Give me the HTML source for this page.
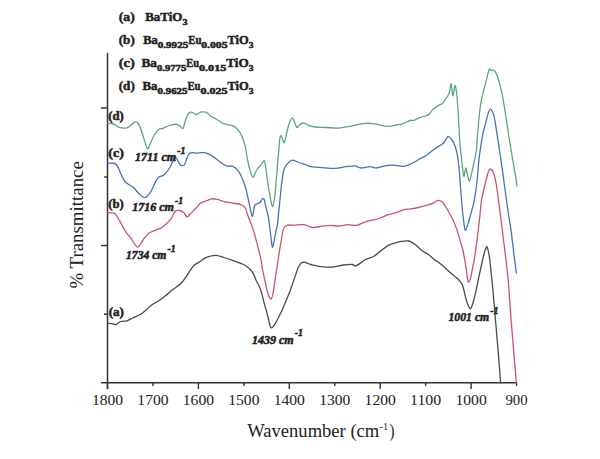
<!DOCTYPE html>
<html><head><meta charset="utf-8"><style>
html,body{margin:0;padding:0;background:#fff;}
body{width:600px;height:459px;overflow:hidden;}
svg{display:block;font-family:"Liberation Serif",serif;}
</style></head><body>
<svg width="600" height="459" viewBox="0 0 600 459">
<rect width="600" height="459" fill="#fff"/>
<line x1="107.5" y1="53" x2="107.5" y2="389" stroke="#333" stroke-width="1.5"/>
<line x1="101" y1="382.8" x2="517.2" y2="382.8" stroke="#333" stroke-width="1.5"/>
<line x1="101.0" y1="108.0" x2="107.5" y2="108.0" stroke="#333" stroke-width="1.5"/>
<line x1="104.2" y1="177.0" x2="107.5" y2="177.0" stroke="#333" stroke-width="1.5"/>
<line x1="101.0" y1="245.5" x2="107.5" y2="245.5" stroke="#333" stroke-width="1.5"/>
<line x1="104.0" y1="314.2" x2="107.5" y2="314.2" stroke="#333" stroke-width="1.5"/>
<line x1="107.50" y1="382.8" x2="107.50" y2="389.0" stroke="#333" stroke-width="1.4"/>
<line x1="152.95" y1="382.8" x2="152.95" y2="386.0" stroke="#333" stroke-width="1.4"/>
<line x1="198.40" y1="382.8" x2="198.40" y2="389.0" stroke="#333" stroke-width="1.4"/>
<line x1="243.85" y1="382.8" x2="243.85" y2="386.0" stroke="#333" stroke-width="1.4"/>
<line x1="289.30" y1="382.8" x2="289.30" y2="389.0" stroke="#333" stroke-width="1.4"/>
<line x1="334.75" y1="382.8" x2="334.75" y2="386.0" stroke="#333" stroke-width="1.4"/>
<line x1="380.20" y1="382.8" x2="380.20" y2="389.0" stroke="#333" stroke-width="1.4"/>
<line x1="425.65" y1="382.8" x2="425.65" y2="386.0" stroke="#333" stroke-width="1.4"/>
<line x1="471.10" y1="382.8" x2="471.10" y2="389.0" stroke="#333" stroke-width="1.4"/>
<line x1="516.55" y1="382.8" x2="516.55" y2="386.0" stroke="#333" stroke-width="1.4"/>
<path d="M107.60 323.40 C108.23 323.43 110.76 323.44 112.00 323.60 C113.24 323.76 115.06 324.80 116.30 324.50 C117.54 324.20 119.14 322.03 120.70 321.50 C122.26 320.97 125.49 321.30 127.20 320.80 C128.91 320.30 130.83 318.90 132.70 318.00 C134.57 317.10 138.29 315.74 140.30 314.50 C142.31 313.26 145.09 310.73 146.80 309.30 C148.51 307.87 150.59 305.71 152.30 304.50 C154.01 303.29 156.93 302.04 158.80 300.80 C160.67 299.56 163.53 297.30 165.40 295.80 C167.27 294.30 170.04 291.77 171.90 290.30 C173.76 288.83 177.00 286.59 178.40 285.50 C179.80 284.41 180.76 283.73 181.70 282.70 C182.64 281.67 183.91 279.86 185.00 278.30 C186.09 276.74 188.06 273.60 189.30 271.80 C190.54 270.00 192.17 267.17 193.70 265.70 C195.23 264.23 198.17 262.69 200.00 261.50 C201.83 260.31 204.24 258.27 206.50 257.40 C208.76 256.53 213.30 255.39 215.80 255.40 C218.30 255.41 221.59 256.79 224.00 257.50 C226.41 258.21 230.21 259.51 232.70 260.40 C235.19 261.29 239.53 262.94 241.40 263.70 C243.27 264.46 244.24 264.54 245.80 265.70 C247.36 266.86 250.84 269.76 252.30 271.80 C253.76 273.84 254.96 277.80 256.00 280.00 C257.04 282.20 258.74 285.14 259.60 287.20 C260.46 289.26 261.31 292.00 262.00 294.40 C262.69 296.80 263.71 301.44 264.40 304.00 C265.09 306.56 266.11 309.74 266.80 312.30 C267.49 314.86 268.60 319.67 269.20 321.90 C269.80 324.13 270.31 327.39 271.00 327.90 C271.69 328.41 273.07 326.70 274.00 325.50 C274.93 324.30 276.49 321.39 277.50 319.50 C278.51 317.61 280.07 314.51 281.10 312.30 C282.13 310.09 283.96 305.76 284.70 304.00 C285.44 302.24 285.60 301.67 286.30 300.00 C287.00 298.33 288.67 294.71 289.60 292.30 C290.53 289.89 291.96 285.53 292.80 283.10 C293.64 280.67 294.74 277.53 295.50 275.30 C296.26 273.07 297.27 269.27 298.10 267.50 C298.93 265.73 300.37 263.66 301.30 262.90 C302.23 262.14 303.64 262.11 304.60 262.20 C305.56 262.29 307.10 263.17 308.00 263.50 C308.90 263.83 308.93 264.04 310.90 264.50 C312.87 264.96 318.69 266.33 321.80 266.70 C324.91 267.07 329.59 267.34 332.70 267.10 C335.81 266.86 340.80 265.37 343.60 265.00 C346.40 264.63 350.59 264.36 352.30 264.50 C354.01 264.64 354.36 266.24 355.60 266.00 C356.84 265.76 359.60 263.73 361.00 262.80 C362.40 261.87 363.54 260.43 365.40 259.50 C367.26 258.57 371.51 257.76 374.00 256.30 C376.49 254.84 380.61 250.93 382.80 249.30 C384.99 247.67 387.43 245.84 389.30 244.90 C391.17 243.96 394.37 243.17 395.90 242.70 C397.43 242.23 398.17 241.84 400.00 241.60 C401.83 241.36 406.51 240.56 408.70 241.00 C410.89 241.44 413.43 243.34 415.30 244.70 C417.17 246.06 419.94 249.10 421.80 250.50 C423.66 251.90 426.43 253.16 428.30 254.50 C430.17 255.84 432.87 258.34 434.90 259.90 C436.93 261.46 440.33 263.59 442.50 265.40 C444.67 267.21 447.93 270.70 450.10 272.60 C452.27 274.50 455.99 277.04 457.70 278.70 C459.41 280.36 461.16 282.33 462.10 284.20 C463.04 286.07 463.69 289.47 464.30 291.80 C464.91 294.13 465.56 298.07 466.40 300.50 C467.24 302.93 469.26 308.49 470.20 308.80 C471.14 309.11 472.13 305.44 473.00 302.70 C473.87 299.96 475.37 293.70 476.30 289.60 C477.23 285.50 478.41 279.01 479.50 274.00 C480.59 268.99 482.97 258.21 483.90 254.50 C484.83 250.79 485.53 249.04 486.00 248.00 C486.47 246.96 486.74 246.11 487.20 247.20 C487.66 248.29 488.73 252.90 489.20 255.60 C489.67 258.30 490.13 262.74 490.50 266.10 C490.87 269.46 491.43 275.37 491.80 279.10 C492.17 282.83 492.69 287.69 493.10 292.20 C493.51 296.71 494.19 304.70 494.70 310.70 C495.21 316.70 496.13 327.49 496.70 334.20 C497.27 340.91 498.14 350.73 498.70 357.70 C499.26 364.67 500.33 379.39 500.60 383.00" fill="none" stroke="#4a4a4a" stroke-width="1.30" stroke-linejoin="round" stroke-linecap="round"/>
<path d="M107.00 212.70 C108.03 212.76 112.71 212.49 114.20 213.10 C115.69 213.71 116.31 215.34 117.40 217.00 C118.49 218.66 120.56 222.51 121.80 224.70 C123.04 226.89 124.86 230.44 126.10 232.30 C127.34 234.16 129.24 235.99 130.50 237.70 C131.76 239.41 133.90 242.96 134.90 244.30 C135.90 245.64 136.73 247.10 137.50 247.10 C138.27 247.10 139.27 245.64 140.30 244.30 C141.33 242.96 143.46 239.31 144.70 237.70 C145.94 236.09 147.60 234.03 149.00 233.00 C150.40 231.97 152.93 231.16 154.50 230.50 C156.07 229.84 158.44 229.23 160.00 228.40 C161.56 227.57 163.86 226.01 165.40 224.70 C166.94 223.39 169.40 221.13 170.80 219.20 C172.20 217.27 173.96 212.44 175.20 211.20 C176.44 209.96 178.26 210.29 179.50 210.50 C180.74 210.71 182.81 211.77 183.90 212.70 C184.99 213.63 186.17 216.84 187.10 217.00 C188.03 217.16 189.14 215.04 190.40 213.80 C191.66 212.56 194.53 209.77 195.90 208.30 C197.27 206.83 198.64 204.51 200.00 203.50 C201.36 202.49 203.69 201.87 205.40 201.20 C207.11 200.53 210.29 199.06 212.00 198.80 C213.71 198.54 215.69 199.00 217.40 199.40 C219.11 199.80 221.81 201.07 224.00 201.60 C226.19 202.13 230.37 202.70 232.70 203.10 C235.03 203.50 238.59 203.84 240.30 204.40 C242.01 204.96 243.59 205.34 244.70 207.00 C245.81 208.66 246.91 212.84 248.10 216.00 C249.29 219.16 251.79 225.40 253.00 229.10 C254.21 232.80 255.46 237.59 256.60 241.90 C257.74 246.21 260.21 255.66 261.00 259.30 C261.79 262.94 261.47 264.06 262.10 267.40 C262.73 270.74 264.51 278.77 265.40 282.70 C266.29 286.63 267.47 292.57 268.30 294.90 C269.13 297.23 270.50 299.37 271.20 299.00 C271.90 298.63 272.63 295.13 273.20 292.30 C273.77 289.47 274.63 282.94 275.20 279.20 C275.77 275.46 276.64 269.83 277.20 266.10 C277.76 262.37 278.63 256.11 279.10 253.10 C279.57 250.09 279.89 248.43 280.50 245.00 C281.11 241.57 282.43 231.93 283.40 229.10 C284.37 226.27 285.81 225.76 287.30 225.20 C288.79 224.64 291.99 225.27 293.80 225.20 C295.61 225.13 298.49 224.77 300.00 224.70 C301.51 224.63 302.54 224.30 304.40 224.70 C306.26 225.10 310.51 227.29 313.00 227.50 C315.49 227.71 319.30 226.51 321.80 226.20 C324.30 225.89 328.01 225.30 330.50 225.30 C332.99 225.30 336.71 226.29 339.20 226.20 C341.69 226.11 345.41 224.83 347.90 224.70 C350.39 224.57 354.10 225.71 356.60 225.30 C359.10 224.89 362.91 222.59 365.40 221.80 C367.89 221.01 371.91 220.34 374.00 219.80 C376.09 219.26 378.14 218.67 380.00 218.00 C381.86 217.33 384.67 215.86 387.00 215.10 C389.33 214.34 393.97 213.46 396.30 212.70 C398.63 211.94 400.96 210.37 403.30 209.80 C405.64 209.23 410.20 209.11 412.70 208.70 C415.20 208.29 418.47 207.49 420.80 206.90 C423.13 206.31 427.16 205.19 429.00 204.60 C430.84 204.01 432.53 203.37 433.70 202.80 C434.87 202.23 436.30 200.90 437.20 200.60 C438.10 200.30 439.24 200.46 440.00 200.70 C440.76 200.94 441.74 201.50 442.50 202.30 C443.26 203.10 444.51 205.13 445.30 206.30 C446.09 207.47 447.33 209.33 448.00 210.50 C448.67 211.67 449.31 213.20 450.00 214.50 C450.69 215.80 451.83 217.47 452.80 219.60 C453.77 221.73 455.81 226.60 456.80 229.40 C457.79 232.20 458.87 236.40 459.70 239.20 C460.53 242.00 461.90 246.20 462.60 249.00 C463.30 251.80 464.09 256.00 464.60 258.80 C465.11 261.60 465.79 265.80 466.20 268.60 C466.61 271.40 467.17 276.43 467.50 278.40 C467.83 280.37 468.07 282.40 468.50 282.40 C468.93 282.40 469.93 280.37 470.50 278.40 C471.07 276.43 471.94 271.40 472.50 268.60 C473.06 265.80 473.84 262.16 474.40 258.80 C474.96 255.44 475.84 249.30 476.40 245.10 C476.96 240.90 477.80 233.60 478.30 229.40 C478.80 225.20 479.44 219.90 479.90 215.70 C480.36 211.50 480.77 204.46 481.50 200.00 C482.23 195.54 484.04 188.43 485.00 184.50 C485.96 180.57 487.44 174.71 488.20 172.50 C488.96 170.29 489.59 169.07 490.30 169.00 C491.01 168.93 492.37 169.93 493.20 172.00 C494.03 174.07 495.26 178.80 496.10 183.50 C496.94 188.20 498.23 198.36 499.10 204.90 C499.97 211.44 501.33 222.33 502.20 229.30 C503.07 236.27 504.33 246.30 505.20 253.70 C506.07 261.10 507.46 271.67 508.30 281.10 C509.14 290.53 510.24 308.59 511.10 319.70 C511.96 330.81 513.54 349.86 514.30 358.90 C515.06 367.94 516.10 379.56 516.40 383.00" fill="none" stroke="#c95566" stroke-width="1.30" stroke-linejoin="round" stroke-linecap="round"/>
<path d="M107.50 163.20 C108.00 163.20 109.86 163.11 111.00 163.20 C112.14 163.29 114.53 163.30 115.50 163.80 C116.47 164.30 116.97 165.13 117.80 166.70 C118.63 168.27 120.30 172.71 121.30 174.80 C122.30 176.89 123.80 179.96 124.80 181.30 C125.80 182.64 127.13 183.37 128.30 184.20 C129.47 185.03 131.66 185.94 133.00 187.10 C134.34 188.26 136.53 191.06 137.70 192.30 C138.87 193.54 140.20 195.04 141.20 195.80 C142.20 196.56 143.70 197.67 144.70 197.60 C145.70 197.53 147.20 196.39 148.20 195.30 C149.20 194.21 150.70 191.84 151.70 190.00 C152.70 188.16 154.20 184.23 155.20 182.40 C156.20 180.57 157.54 178.20 158.70 177.20 C159.86 176.20 162.14 176.16 163.30 175.40 C164.46 174.64 165.80 173.14 166.80 171.90 C167.80 170.66 169.44 168.19 170.30 166.70 C171.16 165.21 172.20 162.83 172.80 161.50 C173.40 160.17 173.93 157.80 174.50 157.40 C175.07 157.00 176.14 157.86 176.80 158.70 C177.46 159.54 178.46 162.33 179.10 163.30 C179.74 164.27 180.54 165.29 181.30 165.50 C182.06 165.71 183.63 165.77 184.40 164.80 C185.17 163.83 186.04 160.23 186.70 158.70 C187.36 157.17 188.24 154.97 189.00 154.10 C189.76 153.23 190.91 152.73 192.00 152.60 C193.09 152.47 195.29 153.20 196.60 153.20 C197.91 153.20 199.90 152.66 201.20 152.60 C202.50 152.54 204.40 152.47 205.70 152.80 C207.00 153.13 208.99 154.17 210.30 154.90 C211.61 155.63 213.53 156.93 214.90 157.90 C216.27 158.87 218.30 160.57 219.90 161.70 C221.50 162.83 224.27 165.14 226.10 165.80 C227.93 166.46 230.99 165.61 232.70 166.30 C234.41 166.99 236.70 168.79 238.10 170.60 C239.50 172.41 241.40 176.44 242.50 179.00 C243.60 181.56 244.87 185.11 245.80 188.50 C246.73 191.89 248.09 198.71 249.00 202.70 C249.91 206.69 251.41 215.93 252.20 216.40 C252.99 216.87 253.81 207.80 254.50 206.00 C255.19 204.20 256.23 204.27 257.00 203.80 C257.77 203.33 259.17 203.33 259.90 202.70 C260.63 202.07 261.51 199.96 262.10 199.40 C262.69 198.84 263.57 198.19 264.00 198.80 C264.43 199.41 264.71 202.06 265.10 203.70 C265.49 205.34 266.24 208.43 266.70 210.30 C267.16 212.17 267.89 214.56 268.30 216.80 C268.71 219.04 269.24 223.26 269.60 226.00 C269.96 228.74 270.40 232.97 270.80 236.00 C271.20 239.03 271.91 246.56 272.40 247.20 C272.89 247.84 273.66 242.96 274.20 240.50 C274.74 238.04 275.71 232.46 276.20 230.00 C276.69 227.54 277.24 225.81 277.60 223.30 C277.96 220.79 278.39 215.51 278.70 212.40 C279.01 209.29 279.37 205.70 279.80 201.50 C280.23 197.30 281.11 187.50 281.70 183.00 C282.29 178.50 283.13 172.70 283.90 170.00 C284.67 167.30 285.86 165.50 287.10 164.10 C288.34 162.70 290.76 160.36 292.60 160.20 C294.44 160.04 298.31 162.44 300.00 163.00 C301.69 163.56 302.84 163.57 304.40 164.10 C305.96 164.63 308.41 166.20 310.90 166.70 C313.39 167.20 318.37 167.36 321.80 167.60 C325.23 167.84 331.47 168.53 334.90 168.40 C338.33 168.27 343.00 167.07 345.80 166.70 C348.60 166.33 352.33 165.61 354.50 165.80 C356.67 165.99 358.83 167.87 361.00 168.00 C363.17 168.13 367.51 166.70 369.70 166.70 C371.89 166.70 374.43 168.06 376.30 168.00 C378.17 167.94 381.13 166.69 382.80 166.30 C384.47 165.91 386.11 165.44 388.00 165.30 C389.89 165.16 393.81 165.14 396.00 165.30 C398.19 165.46 401.40 166.49 403.30 166.40 C405.20 166.31 407.49 165.43 409.30 164.70 C411.11 163.97 414.29 162.26 416.00 161.30 C417.71 160.34 419.77 158.86 421.30 158.00 C422.83 157.14 425.36 156.16 426.70 155.30 C428.04 154.44 429.37 153.04 430.70 152.00 C432.03 150.96 434.49 149.04 436.00 148.00 C437.51 146.96 440.16 145.49 441.30 144.70 C442.44 143.91 443.04 143.64 444.00 142.50 C444.96 141.36 446.86 137.06 448.00 136.70 C449.14 136.34 450.96 138.57 452.00 140.00 C453.04 141.43 454.54 144.60 455.30 146.70 C456.06 148.80 456.81 152.04 457.30 154.70 C457.79 157.36 458.39 162.60 458.70 165.30 C459.01 168.00 459.17 169.61 459.50 173.60 C459.83 177.59 460.54 187.60 461.00 193.20 C461.46 198.80 462.11 207.54 462.70 212.80 C463.29 218.06 464.37 228.34 465.10 230.00 C465.83 231.66 466.97 226.74 467.80 224.40 C468.63 222.06 470.00 216.90 470.90 213.60 C471.80 210.30 473.39 204.67 474.10 201.30 C474.81 197.93 475.44 193.21 475.90 190.00 C476.36 186.79 476.91 182.64 477.30 178.80 C477.69 174.96 478.14 167.50 478.60 163.10 C479.06 158.70 479.90 152.10 480.50 148.00 C481.10 143.90 482.16 137.63 482.80 134.40 C483.44 131.17 484.23 128.40 485.00 125.40 C485.77 122.40 487.43 115.71 488.20 113.40 C488.97 111.09 489.69 109.20 490.40 109.20 C491.11 109.20 492.54 111.74 493.20 113.40 C493.86 115.06 494.23 116.33 495.00 120.80 C495.77 125.27 497.57 137.86 498.60 144.70 C499.63 151.54 501.27 162.23 502.20 168.70 C503.13 175.17 504.27 183.96 505.10 190.00 C505.93 196.04 507.11 204.96 508.00 211.00 C508.89 217.04 510.44 226.01 511.30 232.30 C512.16 238.59 513.27 249.19 514.00 255.00 C514.73 260.81 516.06 270.43 516.40 273.00" fill="none" stroke="#4870bc" stroke-width="1.30" stroke-linejoin="round" stroke-linecap="round"/>
<path d="M107.50 123.50 C108.07 123.50 110.46 123.34 111.50 123.50 C112.54 123.66 113.86 124.13 114.80 124.60 C115.74 125.07 117.01 126.33 118.10 126.80 C119.19 127.27 121.16 127.74 122.40 127.90 C123.64 128.06 125.56 128.29 126.80 127.90 C128.04 127.51 129.93 126.06 131.10 125.20 C132.27 124.34 133.99 122.14 135.00 121.90 C136.01 121.66 137.43 122.64 138.20 123.50 C138.97 124.36 139.77 126.34 140.40 127.90 C141.03 129.46 141.90 132.23 142.60 134.40 C143.30 136.57 144.60 141.00 145.30 143.10 C146.00 145.20 146.87 148.79 147.50 149.10 C148.13 149.41 148.93 146.93 149.70 145.30 C150.47 143.67 151.97 139.57 152.90 137.70 C153.83 135.83 155.26 133.44 156.20 132.20 C157.14 130.96 158.57 129.54 159.50 129.00 C160.43 128.46 161.83 128.69 162.70 128.40 C163.57 128.11 164.24 127.54 165.60 127.00 C166.96 126.46 170.60 124.97 172.20 124.60 C173.80 124.23 175.71 124.21 176.80 124.40 C177.89 124.59 178.93 125.33 179.80 125.90 C180.67 126.47 182.13 129.06 182.90 128.40 C183.67 127.74 184.56 123.19 185.20 121.30 C185.84 119.41 186.64 116.50 187.40 115.20 C188.16 113.90 189.63 112.51 190.50 112.20 C191.37 111.89 192.63 112.67 193.50 113.00 C194.37 113.33 195.61 114.61 196.60 114.50 C197.59 114.39 199.31 112.57 200.40 112.20 C201.49 111.83 203.21 111.79 204.20 111.90 C205.19 112.01 206.43 112.41 207.30 113.00 C208.17 113.59 209.21 115.24 210.30 116.00 C211.39 116.76 213.53 117.54 214.90 118.30 C216.27 119.06 218.60 120.51 219.90 121.30 C221.20 122.09 222.40 123.24 224.00 123.80 C225.60 124.36 229.43 124.67 231.10 125.20 C232.77 125.73 234.40 126.40 235.70 127.50 C237.00 128.60 239.11 131.16 240.20 132.90 C241.29 134.64 242.53 137.53 243.30 139.70 C244.07 141.87 245.06 145.59 245.60 148.10 C246.14 150.61 246.56 154.47 247.10 157.30 C247.64 160.13 248.80 165.51 249.40 167.90 C250.00 170.29 250.76 172.69 251.30 174.00 C251.84 175.31 252.39 177.74 253.20 177.10 C254.01 176.46 255.91 171.24 257.00 169.50 C258.09 167.76 259.74 166.14 260.80 164.90 C261.86 163.66 263.63 159.93 264.40 160.80 C265.17 161.67 265.73 168.01 266.20 171.00 C266.67 173.99 267.11 177.84 267.70 181.70 C268.29 185.56 269.60 194.47 270.30 198.00 C271.00 201.53 271.94 206.86 272.60 206.40 C273.26 205.94 274.20 200.66 274.90 194.80 C275.60 188.94 276.80 173.34 277.50 165.40 C278.20 157.46 279.24 143.40 279.80 139.20 C280.36 135.00 280.74 135.50 281.40 136.00 C282.06 136.50 283.57 143.49 284.40 142.70 C285.23 141.91 286.40 133.56 287.20 130.50 C288.00 127.44 289.21 123.04 290.00 121.30 C290.79 119.56 291.71 117.43 292.70 118.30 C293.69 119.17 295.93 126.44 296.90 127.40 C297.87 128.36 298.70 125.63 299.50 125.00 C300.30 124.37 301.71 123.21 302.50 123.00 C303.29 122.79 304.11 123.17 305.00 123.50 C305.89 123.83 307.23 124.80 308.70 125.30 C310.17 125.80 312.81 126.69 315.30 127.00 C317.79 127.31 323.00 127.34 326.10 127.50 C329.20 127.66 333.89 128.23 337.00 128.10 C340.11 127.97 345.10 127.06 347.90 126.60 C350.70 126.14 354.10 125.37 356.60 124.90 C359.10 124.43 362.91 123.46 365.40 123.30 C367.89 123.14 371.51 123.47 374.00 123.80 C376.49 124.13 380.61 125.23 382.80 125.60 C384.99 125.97 387.23 126.53 389.30 126.40 C391.37 126.27 395.63 125.00 397.30 124.70 C398.97 124.40 399.84 124.59 401.00 124.30 C402.16 124.01 404.14 123.24 405.40 122.70 C406.66 122.16 408.54 120.84 409.80 120.50 C411.06 120.16 412.96 120.64 414.20 120.30 C415.44 119.96 417.26 118.64 418.50 118.10 C419.74 117.56 421.50 116.96 422.90 116.50 C424.30 116.04 426.90 115.89 428.30 114.90 C429.70 113.91 431.30 110.93 432.70 109.60 C434.10 108.27 436.70 106.49 438.10 105.60 C439.50 104.71 441.40 104.39 442.50 103.40 C443.60 102.41 444.97 99.90 445.80 98.70 C446.63 97.50 447.76 96.03 448.30 95.00 C448.84 93.97 449.19 93.11 449.60 91.50 C450.01 89.89 450.73 83.07 451.20 83.70 C451.67 84.33 452.36 95.64 452.90 95.90 C453.44 96.16 454.47 86.00 455.00 85.50 C455.53 85.00 456.26 90.17 456.60 92.40 C456.94 94.63 457.16 97.87 457.40 101.10 C457.64 104.33 458.09 111.53 458.30 115.00 C458.51 118.47 458.67 121.43 458.90 125.40 C459.13 129.37 459.50 137.79 459.90 142.80 C460.30 147.81 461.14 155.71 461.70 160.50 C462.26 165.29 463.21 175.24 463.80 176.30 C464.39 177.36 465.26 168.04 465.80 167.90 C466.34 167.76 467.09 173.40 467.60 175.30 C468.11 177.20 468.83 181.46 469.40 181.20 C469.97 180.94 470.99 175.96 471.60 173.50 C472.21 171.04 473.01 167.36 473.70 164.00 C474.39 160.64 475.86 154.14 476.40 150.00 C476.94 145.86 477.17 139.14 477.50 135.00 C477.83 130.86 478.27 125.24 478.70 121.00 C479.13 116.76 480.00 108.79 480.50 105.30 C481.00 101.81 481.71 98.84 482.20 96.60 C482.69 94.36 483.27 92.09 483.90 89.60 C484.53 87.11 485.84 82.06 486.60 79.20 C487.36 76.34 488.50 70.84 489.20 69.60 C489.90 68.36 490.91 70.41 491.50 70.50 C492.09 70.59 492.83 70.14 493.30 70.20 C493.77 70.26 494.27 70.17 494.80 70.90 C495.33 71.63 496.46 74.00 497.00 75.30 C497.54 76.60 497.86 77.27 498.60 80.00 C499.34 82.73 501.17 89.26 502.20 94.40 C503.23 99.54 504.77 109.49 505.80 116.00 C506.83 122.51 508.37 133.50 509.40 140.00 C510.43 146.50 512.01 155.69 513.00 161.50 C513.99 167.31 515.74 177.20 516.30 180.70 C516.86 184.20 516.81 185.24 516.90 186.00" fill="none" stroke="#58a582" stroke-width="1.30" stroke-linejoin="round" stroke-linecap="round"/>
<text x="118.75" y="21.00" font-size="13.00" font-weight="bold" font-style="normal" text-anchor="start" fill="#222" textLength="16.00" lengthAdjust="spacingAndGlyphs" stroke="#222" stroke-width="0.5" >(a)</text>
<text x="145.20" y="21.00" font-size="13.00" font-weight="bold" font-style="normal" text-anchor="start" fill="#222" textLength="37.20" lengthAdjust="spacingAndGlyphs" stroke="#222" stroke-width="0.5" >BaTiO</text>
<text x="182.40" y="25.00" font-size="9.00" font-weight="bold" font-style="normal" text-anchor="start" fill="#222" textLength="5.00" lengthAdjust="spacingAndGlyphs" stroke="#222" stroke-width="0.5" >3</text>
<text x="118.75" y="44.20" font-size="13.00" font-weight="bold" font-style="normal" text-anchor="start" fill="#222" textLength="16.00" lengthAdjust="spacingAndGlyphs" stroke="#222" stroke-width="0.5" >(b)</text>
<text x="143.30" y="44.20" font-size="13.00" font-weight="bold" font-style="normal" text-anchor="start" fill="#222" textLength="14.50" lengthAdjust="spacingAndGlyphs" stroke="#222" stroke-width="0.5" >Ba</text>
<text x="157.80" y="48.20" font-size="9.00" font-weight="bold" font-style="normal" text-anchor="start" fill="#222" textLength="30.40" lengthAdjust="spacingAndGlyphs" stroke="#222" stroke-width="0.5" >0.9925</text>
<text x="188.20" y="44.20" font-size="13.00" font-weight="bold" font-style="normal" text-anchor="start" fill="#222" textLength="13.30" lengthAdjust="spacingAndGlyphs" stroke="#222" stroke-width="0.5" >Eu</text>
<text x="201.25" y="48.20" font-size="9.00" font-weight="bold" font-style="normal" text-anchor="start" fill="#222" textLength="26.25" lengthAdjust="spacingAndGlyphs" stroke="#222" stroke-width="0.5" >0.005</text>
<text x="227.50" y="44.20" font-size="13.00" font-weight="bold" font-style="normal" text-anchor="start" fill="#222" textLength="21.25" lengthAdjust="spacingAndGlyphs" stroke="#222" stroke-width="0.5" >TiO</text>
<text x="248.75" y="48.20" font-size="9.00" font-weight="bold" font-style="normal" text-anchor="start" fill="#222" textLength="4.75" lengthAdjust="spacingAndGlyphs" stroke="#222" stroke-width="0.5" >3</text>
<text x="118.75" y="67.20" font-size="13.00" font-weight="bold" font-style="normal" text-anchor="start" fill="#222" textLength="16.00" lengthAdjust="spacingAndGlyphs" stroke="#222" stroke-width="0.5" >(c)</text>
<text x="141.50" y="67.20" font-size="13.00" font-weight="bold" font-style="normal" text-anchor="start" fill="#222" textLength="15.50" lengthAdjust="spacingAndGlyphs" stroke="#222" stroke-width="0.5" >Ba</text>
<text x="157.00" y="71.20" font-size="9.00" font-weight="bold" font-style="normal" text-anchor="start" fill="#222" textLength="29.25" lengthAdjust="spacingAndGlyphs" stroke="#222" stroke-width="0.5" >0.9775</text>
<text x="186.25" y="67.20" font-size="13.00" font-weight="bold" font-style="normal" text-anchor="start" fill="#222" textLength="12.75" lengthAdjust="spacingAndGlyphs" stroke="#222" stroke-width="0.5" >Eu</text>
<text x="199.00" y="71.20" font-size="9.00" font-weight="bold" font-style="normal" text-anchor="start" fill="#222" textLength="27.25" lengthAdjust="spacingAndGlyphs" stroke="#222" stroke-width="0.5" >0.015</text>
<text x="226.25" y="67.20" font-size="13.00" font-weight="bold" font-style="normal" text-anchor="start" fill="#222" textLength="22.50" lengthAdjust="spacingAndGlyphs" stroke="#222" stroke-width="0.5" >TiO</text>
<text x="248.75" y="71.20" font-size="9.00" font-weight="bold" font-style="normal" text-anchor="start" fill="#222" textLength="4.75" lengthAdjust="spacingAndGlyphs" stroke="#222" stroke-width="0.5" >3</text>
<text x="118.75" y="90.30" font-size="13.00" font-weight="bold" font-style="normal" text-anchor="start" fill="#222" textLength="16.00" lengthAdjust="spacingAndGlyphs" stroke="#222" stroke-width="0.5" >(d)</text>
<text x="142.50" y="90.30" font-size="13.00" font-weight="bold" font-style="normal" text-anchor="start" fill="#222" textLength="15.00" lengthAdjust="spacingAndGlyphs" stroke="#222" stroke-width="0.5" >Ba</text>
<text x="157.50" y="94.30" font-size="9.00" font-weight="bold" font-style="normal" text-anchor="start" fill="#222" textLength="30.00" lengthAdjust="spacingAndGlyphs" stroke="#222" stroke-width="0.5" >0.9625</text>
<text x="187.50" y="90.30" font-size="13.00" font-weight="bold" font-style="normal" text-anchor="start" fill="#222" textLength="13.00" lengthAdjust="spacingAndGlyphs" stroke="#222" stroke-width="0.5" >Eu</text>
<text x="200.50" y="94.30" font-size="9.00" font-weight="bold" font-style="normal" text-anchor="start" fill="#222" textLength="27.00" lengthAdjust="spacingAndGlyphs" stroke="#222" stroke-width="0.5" >0.025</text>
<text x="227.50" y="90.30" font-size="13.00" font-weight="bold" font-style="normal" text-anchor="start" fill="#222" textLength="21.25" lengthAdjust="spacingAndGlyphs" stroke="#222" stroke-width="0.5" >TiO</text>
<text x="248.75" y="94.30" font-size="9.00" font-weight="bold" font-style="normal" text-anchor="start" fill="#222" textLength="4.75" lengthAdjust="spacingAndGlyphs" stroke="#222" stroke-width="0.5" >3</text>
<text x="108.30" y="119.50" font-size="12.50" font-weight="bold" font-style="normal" text-anchor="start" fill="#222" textLength="15.50" lengthAdjust="spacingAndGlyphs" stroke="#222" stroke-width="0.5" >(d)</text>
<text x="108.30" y="156.50" font-size="12.50" font-weight="bold" font-style="normal" text-anchor="start" fill="#222" textLength="15.50" lengthAdjust="spacingAndGlyphs" stroke="#222" stroke-width="0.5" >(c)</text>
<text x="108.30" y="207.80" font-size="12.50" font-weight="bold" font-style="normal" text-anchor="start" fill="#222" textLength="15.50" lengthAdjust="spacingAndGlyphs" stroke="#222" stroke-width="0.5" >(b)</text>
<text x="108.70" y="316.00" font-size="12.50" font-weight="bold" font-style="normal" text-anchor="start" fill="#222" textLength="15.30" lengthAdjust="spacingAndGlyphs" stroke="#222" stroke-width="0.5" >(a)</text>
<text x="134.90" y="161.00" font-size="11.50" font-weight="bold" font-style="italic" text-anchor="start" fill="#222" textLength="41.40" lengthAdjust="spacingAndGlyphs" stroke="#222" stroke-width="0.5" >1711 cm</text>
<text x="177.30" y="153.70" font-size="10.50" font-weight="bold" font-style="italic" text-anchor="start" fill="#222" textLength="8.30" lengthAdjust="spacingAndGlyphs" stroke="#222" stroke-width="0.5" >-1</text>
<text x="132.20" y="211.20" font-size="11.50" font-weight="bold" font-style="italic" text-anchor="start" fill="#222" textLength="41.80" lengthAdjust="spacingAndGlyphs" stroke="#222" stroke-width="0.5" >1716 cm</text>
<text x="175.00" y="203.90" font-size="10.50" font-weight="bold" font-style="italic" text-anchor="start" fill="#222" textLength="8.30" lengthAdjust="spacingAndGlyphs" stroke="#222" stroke-width="0.5" >-1</text>
<text x="126.00" y="258.90" font-size="11.50" font-weight="bold" font-style="italic" text-anchor="start" fill="#222" textLength="40.40" lengthAdjust="spacingAndGlyphs" stroke="#222" stroke-width="0.5" >1734 cm</text>
<text x="167.40" y="251.60" font-size="10.50" font-weight="bold" font-style="italic" text-anchor="start" fill="#222" textLength="8.30" lengthAdjust="spacingAndGlyphs" stroke="#222" stroke-width="0.5" >-1</text>
<text x="251.90" y="343.70" font-size="11.50" font-weight="bold" font-style="italic" text-anchor="start" fill="#222" textLength="41.80" lengthAdjust="spacingAndGlyphs" stroke="#222" stroke-width="0.5" >1439 cm</text>
<text x="294.70" y="336.40" font-size="10.50" font-weight="bold" font-style="italic" text-anchor="start" fill="#222" textLength="8.30" lengthAdjust="spacingAndGlyphs" stroke="#222" stroke-width="0.5" >-1</text>
<text x="448.40" y="321.20" font-size="11.50" font-weight="bold" font-style="italic" text-anchor="start" fill="#222" textLength="40.90" lengthAdjust="spacingAndGlyphs" stroke="#222" stroke-width="0.5" >1001 cm</text>
<text x="490.30" y="313.90" font-size="10.50" font-weight="bold" font-style="italic" text-anchor="start" fill="#222" textLength="8.30" lengthAdjust="spacingAndGlyphs" stroke="#222" stroke-width="0.5" >-1</text>
<text x="107.50" y="404.60" font-size="14.30" font-weight="normal" font-style="normal" text-anchor="middle" fill="#222" textLength="31.20" lengthAdjust="spacingAndGlyphs" >1800</text>
<text x="152.95" y="404.60" font-size="14.30" font-weight="normal" font-style="normal" text-anchor="middle" fill="#222" textLength="31.20" lengthAdjust="spacingAndGlyphs" >1700</text>
<text x="198.40" y="404.60" font-size="14.30" font-weight="normal" font-style="normal" text-anchor="middle" fill="#222" textLength="31.20" lengthAdjust="spacingAndGlyphs" >1600</text>
<text x="243.85" y="404.60" font-size="14.30" font-weight="normal" font-style="normal" text-anchor="middle" fill="#222" textLength="31.20" lengthAdjust="spacingAndGlyphs" >1500</text>
<text x="289.30" y="404.60" font-size="14.30" font-weight="normal" font-style="normal" text-anchor="middle" fill="#222" textLength="31.20" lengthAdjust="spacingAndGlyphs" >1400</text>
<text x="334.75" y="404.60" font-size="14.30" font-weight="normal" font-style="normal" text-anchor="middle" fill="#222" textLength="31.20" lengthAdjust="spacingAndGlyphs" >1300</text>
<text x="380.20" y="404.60" font-size="14.30" font-weight="normal" font-style="normal" text-anchor="middle" fill="#222" textLength="31.20" lengthAdjust="spacingAndGlyphs" >1200</text>
<text x="425.65" y="404.60" font-size="14.30" font-weight="normal" font-style="normal" text-anchor="middle" fill="#222" textLength="31.20" lengthAdjust="spacingAndGlyphs" >1100</text>
<text x="471.10" y="404.60" font-size="14.30" font-weight="normal" font-style="normal" text-anchor="middle" fill="#222" textLength="31.20" lengthAdjust="spacingAndGlyphs" >1000</text>
<text x="516.55" y="404.60" font-size="14.30" font-weight="normal" font-style="normal" text-anchor="middle" fill="#222" textLength="22.20" lengthAdjust="spacingAndGlyphs" >900</text>
<text x="247.30" y="436.90" font-size="18.00" font-weight="normal" font-style="normal" text-anchor="start" fill="#222" textLength="132.00" lengthAdjust="spacingAndGlyphs" >Wavenumber (cm</text>
<text x="379.50" y="429.50" font-size="11.00" font-weight="normal" font-style="normal" text-anchor="start" fill="#222" textLength="8.50" lengthAdjust="spacingAndGlyphs" >-1</text>
<text x="389.50" y="436.90" font-size="18.00" font-weight="normal" font-style="normal" text-anchor="start" fill="#222" textLength="5.00" lengthAdjust="spacingAndGlyphs" >)</text>
<text transform="translate(82.6,288.6) rotate(-90)" x="0" y="0" font-size="18.5" fill="#222" textLength="127.5" lengthAdjust="spacingAndGlyphs">% Transmittance</text>
</svg>
</body></html>
